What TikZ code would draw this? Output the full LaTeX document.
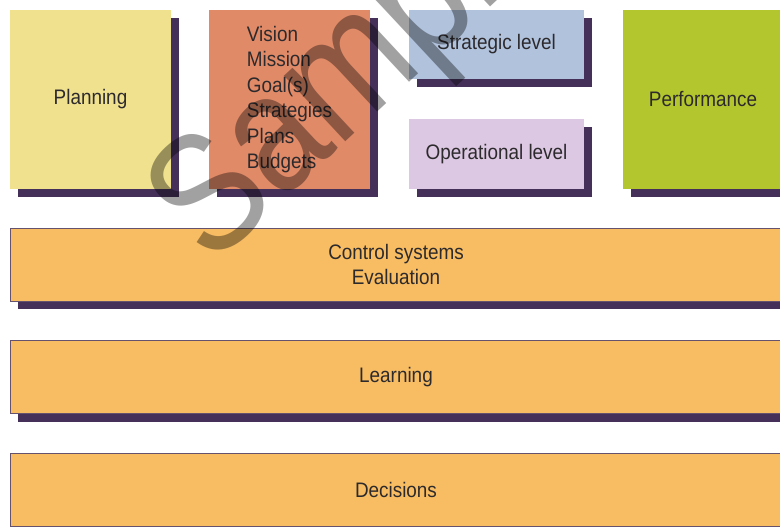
\documentclass[tikz,border=0pt]{standalone}
\usepackage{fontspec}
\setmainfont[FakeStretch=0.9]{Liberation Sans}
\newfontfamily\wmfont[FakeStretch=0.84]{Liberation Sans}
\usetikzlibrary{shadows}
\definecolor{cyellow}{RGB}{240,225,142}
\definecolor{csalmon}{RGB}{224,138,104}
\definecolor{cblue}{RGB}{176,194,220}
\definecolor{clilac}{RGB}{220,200,226}
\definecolor{cgreen}{RGB}{180,198,46}
\definecolor{cbar}{RGB}{248,189,98}
\definecolor{cshadow}{RGB}{69,48,90}
\definecolor{ctext}{RGB}{45,42,45}
\definecolor{cedge}{RGB}{100,82,110}
\tikzset{
  box/.style={rectangle, inner sep=0pt, outer sep=0pt, text=ctext,
    font=\fontsize{21}{25.5}\selectfont, align=center,
    drop shadow={shadow xshift=8pt, shadow yshift=-8pt, opacity=1, fill=cshadow}},
  barbox/.style={box, fill=cbar, draw=cedge, line width=0.8pt,
    minimum width=772pt, minimum height=73pt},
}
\begin{document}
\begin{tikzpicture}[x=1pt,y=-1pt]
\useasboundingbox (0,0) rectangle (780,527);
\fill[white] (0,0) rectangle (780,527);
\node[box, fill=cyellow, minimum width=161pt, minimum height=179pt] (plan) at (90.5,99.5) {Planning};
\node[box, fill=csalmon, minimum width=161pt, minimum height=179pt, align=left] (goals) at (289.5,99.5) {Vision\\Mission\\Goal(s)\\Strategies\\Plans\\Budgets};
\node[box, fill=cblue, minimum width=175pt, minimum height=69pt] (strat) at (496.5,44.5) {Strategic level};
\node[box, fill=clilac, minimum width=175pt, minimum height=70pt] (oper) at (496.5,154) {Operational level};
\node[box, fill=cgreen, minimum width=160pt, minimum height=179pt] (perf) at (703,99.5) {Performance};
\node[barbox] (ctrl) at (396,264.5) {Control systems\\Evaluation};
\node[barbox] (learn) at (396,377) {Learning};
\node[barbox] (dec) at (396,490) {Decisions};
\node[anchor=base west, rotate=43, inner sep=0pt, text=black, text opacity=0.37,
  font=\wmfont\fontsize{170}{170}\selectfont] (wm) at (211,268) {Sample};
\end{tikzpicture}
\end{document}
